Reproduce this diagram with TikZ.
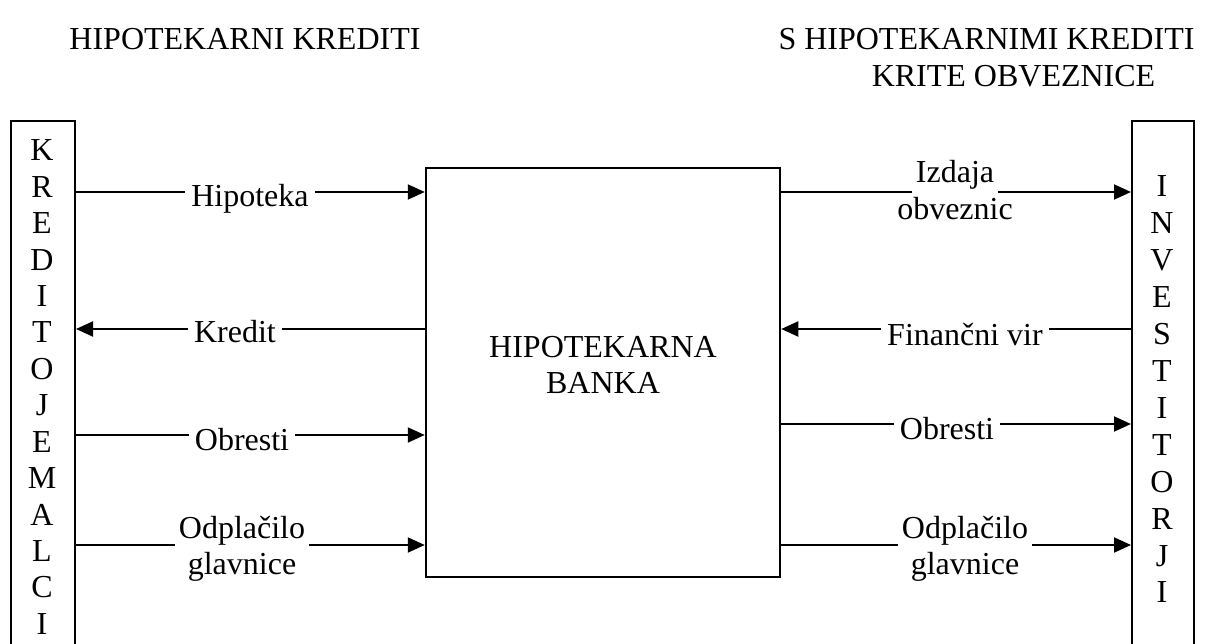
\documentclass[tikz,border=0pt]{standalone}
\usepackage{fontspec}
\setmainfont{Liberation Serif}
\usetikzlibrary{arrows.meta}
\setlength{\fboxsep}{4pt}
\begin{document}
\begin{tikzpicture}[x=1pt,y=-1pt]
\tikzset{
 txt/.style={font=\fontsize{32}{36.5}\selectfont, inner sep=0pt},
 flow/.style={line width=2pt, -{Triangle[length=17pt,width=15pt]}},
 lab/.style={txt, fill=white, inner xsep=6pt, inner ysep=1pt, anchor=base},
 lab2/.style={txt, align=center, anchor=center},
 frame/.style={draw, line width=2pt, inner sep=0pt},
}
\useasboundingbox (0,0) rectangle (1205,644);
% frames
\node[frame, minimum width=64pt, minimum height=600pt, anchor=north west] (kred) at (10,120) {};
\node[frame, minimum width=62pt, minimum height=600pt, anchor=north west] (inv) at (1131,120) {};
\node[frame, line width=2.5pt, minimum width=354pt, minimum height=409pt] (bank) at (603,372.5) {};
\node[txt, align=center, anchor=north] (banklbl) at (603,336) {HIPOTEKARNA\\BANKA};
% titles
\node[txt, anchor=base] (t1) at (245,50) {HIPOTEKARNI KREDITI};
\node[txt, anchor=base] (t2) at (986.5,50) {S HIPOTEKARNIMI KREDITI};
\node[txt, anchor=base] (t3) at (1013.5,87) {KRITE OBVEZNICE};
% vertical letters
\foreach \c [count=\i from 0] in {K,R,E,D,I,T,O,J,E,M,A,L,C,I}
  \node[txt, anchor=base] (k\i) at (42,161+36.4*\i) {\c};
\foreach \c [count=\i from 0] in {I,N,V,E,S,T,I,T,O,R,J,I}
  \node[txt, anchor=base] (n\i) at (1162,197+36.9*\i) {\c};
% row coordinates
\coordinate (L1) at (0,192);
\coordinate (L2) at (0,329);
\coordinate (L3) at (0,435);
\coordinate (L4) at (0,545);
\coordinate (R1) at (0,192);
\coordinate (R2) at (0,329);
\coordinate (R3) at (0,424);
\coordinate (R4) at (0,545);
% connectors
\draw[flow] (kred.east |- L1) -- (bank.west |- L1);
\draw[flow] (bank.west |- L2) -- (kred.east |- L2);
\draw[flow] (kred.east |- L3) -- (bank.west |- L3);
\draw[flow] (kred.east |- L4) -- (bank.west |- L4);
\draw[flow] (bank.east |- R1) -- (inv.west |- R1);
\draw[flow] (inv.west |- R2) -- (bank.east |- R2);
\draw[flow] (bank.east |- R3) -- (inv.west |- R3);
\draw[flow] (bank.east |- R4) -- (inv.west |- R4);
% labels
\node[lab] (hip) at (250,207) {Hipoteka};
\node[lab] (kre) at (235,343) {Kredit};
\node[lab] (obrL) at (242,450) {Obresti};
\node[lab2] (odpL) at (242,546.8) {\colorbox{white}{Odplačilo}\\glavnice};
\node[lab2] (izd) at (955,188.3) {\colorbox{white}{Izdaja}\\obveznic};
\node[lab] (fin) at (965,345) {Finančni vir};
\node[lab] (obrR) at (947,439) {Obresti};
\node[lab2] (odpR) at (965,546.8) {\colorbox{white}{Odplačilo}\\glavnice};
\end{tikzpicture}
\end{document}
